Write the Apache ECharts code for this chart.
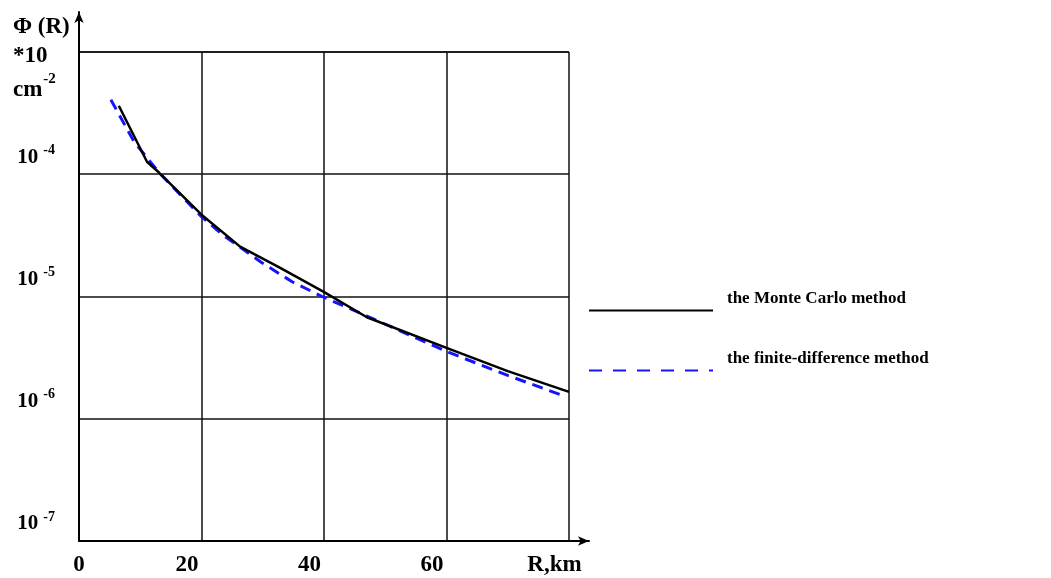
<!DOCTYPE html>
<html>
<head>
<meta charset="utf-8">
<script src="https://cdn.jsdelivr.net/npm/echarts@6/dist/echarts.min.js"></script>
<style>
  html, body { margin: 0; padding: 0; background: #fff; }
  #chart { width: 1051px; height: 578px; }
</style>
</head>
<body>
<div id="chart"></div>
<script>
// R, km
var xTicks = [0, 20, 40, 60, 80]
var mcR = [6.5, 11.1, 13.1, 20, 26.3, 32.7, 40.1, 47, 60, 70, 80]
var mcPhi = [3.63e-4, 1.265e-4, 1.028e-4, 4.67e-5, 2.56e-5, 1.73e-5, 1.08e-5, 6.76e-6, 3.8e-6, 2.45e-6, 1.66e-6]
var fdR = [5.2, 9.0, 13.1, 20, 23.4, 29.8, 34.8, 39.7, 47, 60, 70, 79]
var fdPhi = [4.07e-4, 1.84e-4, 1.028e-4, 4.5e-5, 3.21e-5, 1.9e-5, 1.32e-5, 1.0e-5, 6.92e-6, 3.55e-6, 2.26e-6, 1.55e-6]

var serif = 'Liberation Serif'

function pairs(xs, ys) {
  return xs.map(function (x, i) { return [x, ys[i]] })
}

var chart = echarts.init(document.getElementById('chart'))

var legendText = {
  fontFamily: serif,
  fontWeight: 'bold',
  fontSize: 17,
  color: '#000',
  rich: {
    t: { fontFamily: serif, fontWeight: 'bold', fontSize: 17, color: '#000', padding: [0, 0, 24, 9] }
  }
}

var option = {
  animation: false,
  grid: [
    { left: 79, top: 52, width: 490, height: 489 },
    { left: 79, top: 12, width: 510, height: 529 }
  ],
  xAxis: [{
    gridIndex: 0,
    type: 'value',
    min: xTicks[0],
    max: xTicks[xTicks.length - 1],
    interval: 20,
    axisLine: { show: false },
    axisTick: { show: false },
    splitLine: { lineStyle: { color: '#111', width: 1.5 } },
    axisLabel: {
      margin: 13,
      formatter: function (v) {
        if (v === 0) return '{n|0}'
        return '{p|' + (v === 80 ? 'R,km' : v) + '}'
      },
      rich: {
        n: { fontFamily: serif, fontWeight: 'bold', fontSize: 23, color: '#000' },
        p: { fontFamily: serif, fontWeight: 'bold', fontSize: 23, color: '#000', padding: [0, 29, 0, 0] }
      }
    }
  }, {
    gridIndex: 1,
    type: 'value',
    min: 0,
    max: 1,
    axisLine: { show: true, symbol: ['none', 'arrow'], symbolSize: [7, 11], lineStyle: { color: '#000', width: 2 } },
    axisTick: { show: false },
    axisLabel: { show: false },
    splitLine: { show: false }
  }],
  yAxis: [{
    gridIndex: 0,
    type: 'log',
    logBase: 10,
    min: 1e-7,
    max: 1e-3,
    axisLine: { show: false },
    axisTick: { show: false },
    splitLine: { lineStyle: { color: '#111', width: 1.5 } },
    axisLabel: {
      margin: 24,
      verticalAlign: 'bottom',
      formatter: function (v) {
        var e = Math.round(Math.log10(v))
        if (e === -3) return ''
        return '{b|10}{s|' + e + '}'
      },
      rich: {
        b: { fontFamily: serif, fontWeight: 'bold', fontSize: 21, color: '#000', padding: [0, 0, 3, 0] },
        s: { fontFamily: serif, fontWeight: 'bold', fontSize: 14, color: '#000', padding: [0, 0, 17, 5] }
      }
    }
  }, {
    gridIndex: 1,
    type: 'value',
    min: 0,
    max: 1,
    axisLine: { show: true, symbol: ['none', 'arrow'], symbolSize: [7, 11], lineStyle: { color: '#000', width: 2 } },
    axisTick: { show: false },
    axisLabel: { show: false },
    splitLine: { show: false }
  }],
  legend: [{
    data: [{ name: 'the Monte Carlo method', itemStyle: { opacity: 0 } }],
    left: 588,
    top: 290,
    padding: 0,
    itemWidth: 124,
    itemHeight: 14,
    formatter: '{t|{name}}',
    textStyle: legendText
  }, {
    data: [{ name: 'the finite-difference method', itemStyle: { opacity: 0 }, lineStyle: { type: [13, 11] } }],
    left: 588,
    top: 350,
    padding: 0,
    itemWidth: 124,
    itemHeight: 14,
    formatter: '{t|{name}}',
    textStyle: legendText
  }],
  graphic: [
    { type: 'text', left: 13, top: 16, style: { text: 'Φ (R)', font: 'bold 23px "Liberation Serif"', fill: '#000' } },
    { type: 'text', left: 13, top: 45, style: { text: '*10', font: 'bold 23px "Liberation Serif"', fill: '#000' } },
    {
      type: 'text', left: 13, top: 72,
      style: {
        text: '{a|cm}{s|-2}',
        rich: {
          a: { fontFamily: serif, fontWeight: 'bold', fontSize: 23, fill: '#000', padding: [8, 0, 0, 0] },
          s: { fontFamily: serif, fontWeight: 'bold', fontSize: 15, fill: '#000', padding: [0, 0, 14, 1] }
        }
      }
    }
  ],
  series: [{
    name: 'the finite-difference method',
    type: 'line',
    xAxisIndex: 0,
    yAxisIndex: 0,
    symbol: 'none',
    data: pairs(fdR, fdPhi),
    itemStyle: { color: '#1414ff' },
    lineStyle: { color: '#1414ff', width: 3, type: [11, 7] }
  }, {
    name: 'the Monte Carlo method',
    type: 'line',
    xAxisIndex: 0,
    yAxisIndex: 0,
    symbol: 'none',
    data: pairs(mcR, mcPhi),
    itemStyle: { color: '#000' },
    lineStyle: { color: '#000', width: 2.5 }
  }]
}

chart.setOption(option)
</script>
</body>
</html>
